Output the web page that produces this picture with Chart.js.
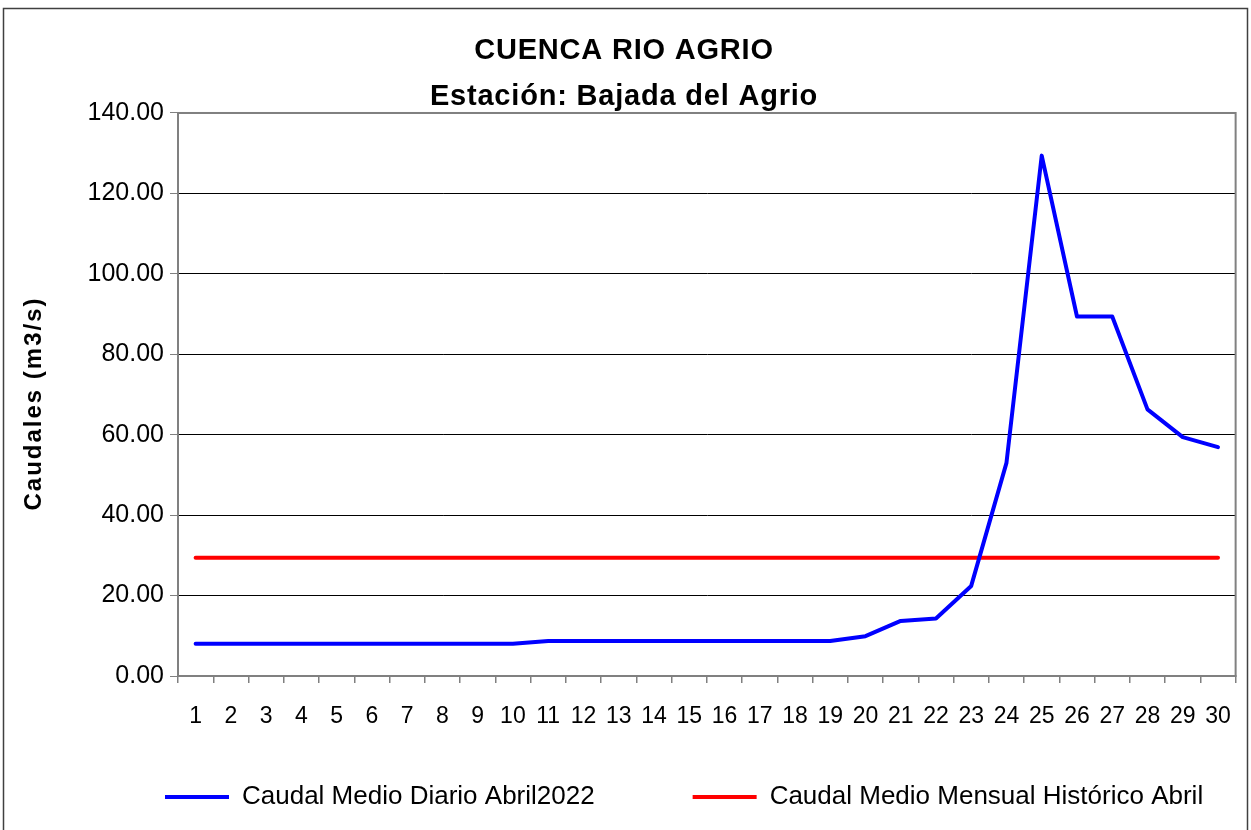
<!DOCTYPE html>
<html><head><meta charset="utf-8">
<script src="https://cdn.jsdelivr.net/npm/chart.js@4/dist/chart.umd.min.js"></script>
<style>html,body{margin:0;padding:0;background:#fff;overflow:hidden}</style>
</head><body>
<canvas id="c" width="1251" height="830"></canvas>
<script>
const days = ['1','2','3','4','5','6','7','8','9','10','11','12','13','14','15','16','17','18','19','20','21','22','23','24','25','26','27','28','29','30'];
const caudalDiario = [8.0,8.0,8.0,8.0,8.0,8.0,8.0,8.0,8.0,8.0,8.7,8.7,8.7,8.7,8.7,8.7,8.7,8.7,8.7,9.9,13.7,14.3,22.4,53.0,129.4,89.4,89.4,66.3,59.4,56.9];
const caudalHistorico = [29.4,29.4,29.4,29.4,29.4,29.4,29.4,29.4,29.4,29.4,29.4,29.4,29.4,29.4,29.4,29.4,29.4,29.4,29.4,29.4,29.4,29.4,29.4,29.4,29.4,29.4,29.4,29.4,29.4,29.4];
const seriesNames = ['Caudal Medio Diario Abril2022', 'Caudal Medio Mensual Histórico Abril'];
const titleLines = ['CUENCA RIO AGRIO', 'Estación: Bajada del Agrio'];
const yTitle = 'Caudales (m3/s)';

const FONT = "'Liberation Sans', Arial, sans-serif";

function withSpacing(obj, fnName, spacing, dy) {
  if (!obj || obj['_sp_' + fnName]) return;
  const orig = obj[fnName];
  obj[fnName] = function () {
    const ctx = this.ctx;
    const prev = ctx.letterSpacing;
    ctx.save();
    if (dy) ctx.translate(0, dy);
    try { ctx.letterSpacing = spacing; } catch (e) {}
    orig.apply(this, arguments);
    try { ctx.letterSpacing = prev || '0px'; } catch (e) {}
    ctx.restore();
  };
  obj['_sp_' + fnName] = true;
}

const framePlugin = {
  id: 'frame',
  beforeDraw(chart) {
    const ctx = chart.ctx;
    ctx.save();
    ctx.fillStyle = '#fff';
    ctx.fillRect(0, 0, chart.width, chart.height);
    ctx.restore();
  },
  beforeDatasetsDraw(chart) {
    const {ctx, chartArea: a} = chart;
    ctx.save();
    ctx.strokeStyle = '#808080';
    ctx.lineWidth = 2;
    ctx.strokeRect(a.left, a.top, a.right - a.left, a.bottom - a.top);
    ctx.restore();
  },
  afterDraw(chart) {
    const ctx = chart.ctx;
    ctx.save();
    ctx.strokeStyle = '#404040';
    ctx.lineWidth = 1.5;
    ctx.beginPath();
    ctx.moveTo(3.5, 830);
    ctx.lineTo(3.5, 8.5);
    ctx.lineTo(1247.5, 8.5);
    ctx.lineTo(1247.5, 830);
    ctx.stroke();
    ctx.restore();
  },
  afterLayout(chart) {
    const lg = chart.legend;
    if (lg) { lg.left = 67; lg.right = 1400; lg.top = 686; lg.bottom = 830; }
    withSpacing(chart.scales.y, 'drawTitle', '2px', 9);
    withSpacing(chart.titleBlock, 'draw', '0.8px', 0);
  }
};

new Chart(document.getElementById('c'), {
  type: 'line',
  data: {
    labels: days,
    datasets: [
      { label: seriesNames[0], data: caudalDiario, borderColor: '#0000FF', backgroundColor: '#0000FF', borderWidth: 4, pointRadius: 0, tension: 0, borderCapStyle: 'round', borderJoinStyle: 'round' },
      { label: seriesNames[1], data: caudalHistorico, borderColor: '#FF0000', backgroundColor: '#FF0000', borderWidth: 4, pointRadius: 0, tension: 0, borderCapStyle: 'round' }
    ]
  },
  options: {
    responsive: false,
    animation: false,
    devicePixelRatio: 1,
    layout: { padding: { left: 10, right: 13, top: 0, bottom: 0 } },
    plugins: {
      title: {
        display: true,
        text: titleLines,
        color: '#000',
        font: { family: FONT, size: 29, weight: 'bold', lineHeight: 1.586 },
        padding: { top: 28, bottom: -7 }
      },
      legend: {
        display: true,
        position: 'bottom',
        align: 'start',
        maxHeight: 94,
        labels: {
          color: '#000',
          font: { family: FONT, size: 26 },
          boxWidth: 64,
          boxHeight: 4,
          padding: 98,
          generateLabels(chart) {
            return chart.data.datasets.map((d, i) => ({
              text: d.label, fillStyle: d.borderColor, strokeStyle: d.borderColor, lineWidth: 0, datasetIndex: i, hidden: false
            }));
          }
        }
      },
      tooltip: { enabled: false }
    },
    scales: {
      x: {
        offset: true,
        afterFit(scale) { scale.height = 60; },
        grid: { display: true, offset: true, drawOnChartArea: false, drawTicks: true, tickLength: 7, color: '#808080', lineWidth: 1.5 },
        border: { display: true, color: '#808080', width: 2 },
        ticks: { color: '#000', font: { family: FONT, size: 23 }, padding: 20, maxRotation: 0, autoSkip: false }
      },
      y: {
        min: 0, max: 140,
        afterFit(scale) { scale.width = 168; },
        grid: { color: (c) => (c.tick && (c.tick.value === 0 || c.tick.value === 140)) ? '#808080' : '#000', lineWidth: 1, tickLength: 8, tickColor: '#808080' },
        border: { display: true, color: '#808080', width: 2 },
        ticks: { stepSize: 20, color: '#000', font: { family: FONT, size: 25 }, padding: 6, callback: (v) => Number(v).toFixed(2) },
        title: { display: true, text: yTitle, color: '#000', font: { family: FONT, size: 24, weight: 'bold' }, padding: { top: 10, bottom: 0 } }
      }
    }
  },
  plugins: [framePlugin]
});
</script>
</body></html>
